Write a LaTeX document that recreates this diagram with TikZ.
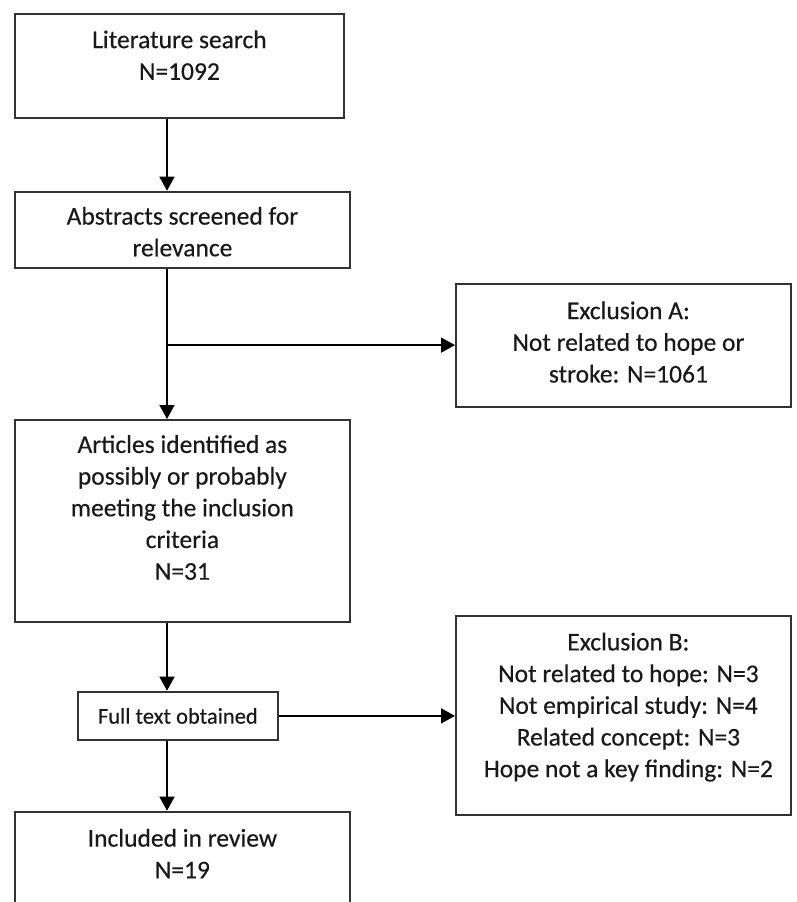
\documentclass[tikz,border=0pt]{standalone}
\usepackage{fontspec}
\setmainfont{Carlito}[FakeBold=0.35]
\usetikzlibrary{arrows.meta}
\tikzset{
  box/.style={draw=black!80, line width=1.8pt, fill=white, inner sep=0pt, anchor=north west},
  label text/.style={align=center, inner sep=0pt, anchor=north, text=black!90,
    font=\fontsize{25.5}{31.7}\selectfont},
  small text/.style={align=center, inner sep=0pt, text=black!90,
    font=\fontsize{22.5}{28}\selectfont},
  arr/.style={draw=black, line width=1.5pt, -{Triangle[length=14pt,width=15pt]}},
}
\begin{document}
\begin{tikzpicture}[x=1pt,y=-1pt]
\clip (0,0) rectangle (796,902);
\fill[white] (0,0) rectangle (796,902);

% left column of boxes
\node[box, minimum width=329pt, minimum height=104pt] (b1) at (14,12.7) {};
\node[box, minimum width=335pt, minimum height=76pt]  (b2) at (14,190.7) {};
\node[box, minimum width=335pt, minimum height=202pt] (b4) at (14,419) {};
\node[box, minimum width=200.6pt, minimum height=48.6pt] (b5) at (76.7,690.7) {};
\node[box, minimum width=335pt, minimum height=160pt] (b7) at (14,810.7) {};

% exclusion boxes on the right
\node[box, minimum width=335pt, minimum height=123pt] (exA) at (455,282.7) {};
\node[box, minimum width=335pt, minimum height=199.3pt] (exB) at (455,615) {};

% box texts
\node[label text] (t1) at ([yshift=-13]b1.north) {\strut Literature search\\N=1092};
\node[label text] (t2) at ([yshift=-11.5]b2.north) {\strut Abstracts screened for\\relevance};
\node[label text] (t4) at ([yshift=-11.5]b4.north) {\strut Articles identified as\\possibly or probably\\meeting the inclusion\\criteria\\N=31};
\node[small text] (t5) at (b5.center) {Full text obtained};
\node[label text] (t7) at ([yshift=-13.5]b7.north) {\strut Included in review\\N=19};
\node[label text] (tA) at ([xshift=5,yshift=-14]exA.north) {\strut Exclusion A:\\Not related to hope or\\stroke: N=1061};
\node[label text] (tB) at ([xshift=5,yshift=-13]exB.north) {\strut Exclusion B:\\Not related to hope: N=3\\Not empirical study: N=4\\Related concept: N=3\\Hope not a key finding: N=2};

% connectors
\coordinate (spine) at (167,0);
\draw[arr] (spine |- b1.south) -- (spine |- b2.north);
\draw[arr] (spine |- b2.south) -- (spine |- b4.north);
\draw[arr] (spine |- exA.west) -- (exA.west);
\draw[arr] (spine |- b4.south) -- (spine |- b5.north);
\draw[arr] (b5.east) -- (b5.east -| exB.west);
\draw[arr] (spine |- b5.south) -- (spine |- b7.north);
\end{tikzpicture}
\end{document}
